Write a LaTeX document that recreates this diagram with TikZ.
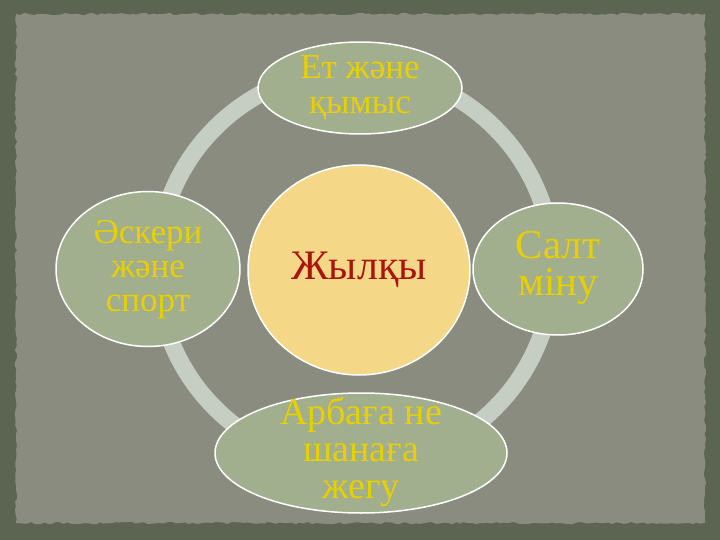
\documentclass[tikz,border=0pt]{standalone}
\usepackage{fontspec}
\setmainfont{Liberation Serif}
\usetikzlibrary{shapes.geometric,decorations.pathmorphing}

\definecolor{frame}{RGB}{92,100,82}
\definecolor{panel}{RGB}{138,140,128}
\definecolor{ringgrey}{RGB}{198,205,194}
\definecolor{sage}{RGB}{162,175,143}
\definecolor{hubfill}{RGB}{245,215,136}
\definecolor{gold}{RGB}{232,208,0}
\definecolor{hubred}{RGB}{170,20,16}

\tikzset{
  bubble/.style={ellipse, draw=white, line width=1.5pt, fill=sage, inner sep=0pt},
  caption/.style={text=gold, align=center, inner sep=0pt},
  hub/.style={ellipse, draw=white, line width=1.5pt, fill=hubfill, text=hubred,
    inner sep=0pt, font=\fontsize{42}{44}\selectfont}
}

\begin{document}
\begin{tikzpicture}[x=1pt,y=-1pt]
\useasboundingbox (0,0) rectangle (720,540);
\fill[frame] (0,0) rectangle (720,540);
\fill[panel, decorate, decoration={random steps,segment length=4pt,amplitude=1.2pt}]
  (16,14) rectangle (705,523);

% ring behind everything
\draw[ringgrey, line width=17pt] (355,268) circle (198pt);

\node[hub, minimum width=222pt, minimum height=210pt] (horse) at (359,270) {Жылқы};

\node[bubble, minimum width=204pt, minimum height=92pt] (meat) at (360,88) {};
\node[caption, font=\fontsize{35}{35}\selectfont] (meat text) at (360,88) {Ет және\\қымыс};

\node[bubble, minimum width=184pt, minimum height=155pt] (army) at (148,269) {};
\node[caption, font=\fontsize{35}{34}\selectfont] (army text) at (148,270) {Әскери\\және\\спорт};

\node[bubble, minimum width=170pt, minimum height=132pt] (ride) at (558,269) {};
\node[caption, font=\fontsize{41}{37}\selectfont] (ride text) at (558,268) {Салт\\міну};

\node[bubble, minimum width=292pt, minimum height=120pt] (cart) at (361,453) {};
\node[caption, font=\fontsize{38}{37}\selectfont] (cart text) at (361,452) {Арбаға не\\шанаға\\жегу};

\end{tikzpicture}
\end{document}
